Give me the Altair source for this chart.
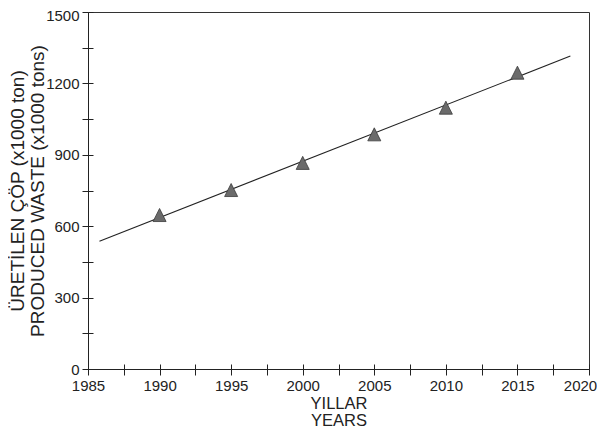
import altair as alt
import pandas as pd

years = [1990, 1995, 2000, 2005, 2010, 2015]
waste = [647, 752, 866, 986, 1098, 1245]

fit_years = [1985.8, 2018.7]
fit_waste = [537, 1315]

x_ticks = [1985, 1987.5, 1990, 1992.5, 1995, 1997.5, 2000, 2002.5, 2005,
           2007.5, 2010, 2012.5, 2015, 2017.5, 2020]
y_ticks = [0, 150, 300, 450, 600, 750, 900, 1050, 1200, 1350, 1500]

x_title = ["YILLAR", "YEARS"]
y_title = ["ÜRETİLEN ÇÖP (x1000 ton)", "PRODUCED WASTE (x1000 tons)"]

W, H = 501, 357
FONT = "Liberation Sans"
INK = "#222222"

pts = pd.DataFrame({"year": years, "waste": waste})
fit = pd.DataFrame({"year": fit_years, "waste": fit_waste})

xs = alt.Scale(domain=[1985, 2020], nice=False, zero=False)
ys = alt.Scale(domain=[0, 1500], nice=False, zero=True)

points = alt.Chart(pts).mark_point(
    shape="M0,-1L1,1L-1,1Z", filled=True, color="#6b6b6b", stroke="#3a3a3a",
    strokeWidth=0.8, size=170, opacity=1,
).encode(
    x=alt.X("year:Q", scale=xs, axis=alt.Axis(
        values=x_ticks, labelExpr="datum.value % 5 == 0 ? format(datum.value, 'd') : ''",
        labelOffset={"condition": {"test": "datum.value == 2020", "value": -9}, "value": 0},
        tickSize=6, tickColor=INK, domainColor=INK, labelColor=INK, labelFlush=False,
        labelFont=FONT, labelFontSize=15, labelPadding=3, grid=False,
        title=x_title, titleFont=FONT, titleFontSize=16.5, titleFontWeight="normal",
        titleColor=INK, titleLineHeight=17, titlePadding=2,
    )),
    y=alt.Y("waste:Q", scale=ys, axis=alt.Axis(
        values=y_ticks, labelExpr="datum.value % 300 == 0 ? format(datum.value, 'd') : ''",
        labelOffset={"condition": {"test": "datum.value == 1500", "value": 3}, "value": 0},
        tickSize=6, tickColor=INK, domainColor=INK, labelColor=INK, labelFlush=False,
        labelFont=FONT, labelFontSize=15, labelPadding=3, grid=False,
        title=y_title, titleFont=FONT, titleFontSize=19, titleFontWeight="normal",
        titleColor=INK, titleLineHeight=20, titlePadding=-2,
    )),
)

line = alt.Chart(fit).mark_line(color=INK, strokeWidth=1.1).encode(
    x=alt.X("year:Q", scale=xs, axis=alt.Axis(
        orient="top", offset=-H, values=x_ticks, labels=False, domain=False,
        tickSize=5, tickColor=INK, grid=False, title=None,
    )),
    y=alt.Y("waste:Q", scale=ys, axis=alt.Axis(
        orient="right", offset=-W, values=y_ticks, labels=False, domain=False,
        tickSize=5, tickColor=INK, grid=False, title=None,
    )),
)

chart = alt.layer(line, points).resolve_scale(
    x="independent", y="independent"
).properties(
    width=W, height=H, padding={"left": 0, "top": 0, "right": 0, "bottom": 0},
).configure_view(stroke="#333333", strokeWidth=1)

chart.save("out.html", embed_options={"renderer": "svg", "actions": False})
